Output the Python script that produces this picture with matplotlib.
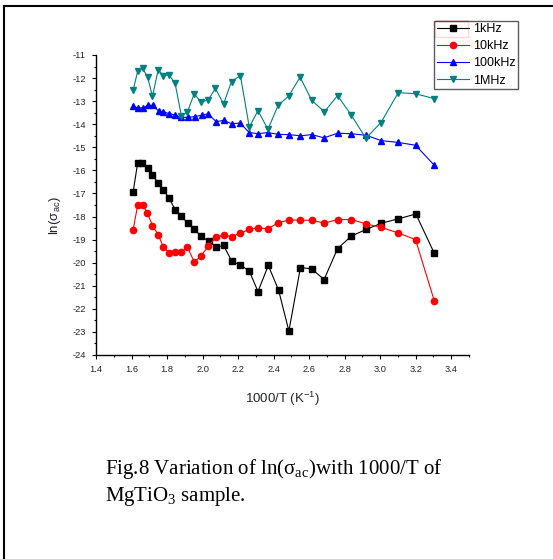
import matplotlib
matplotlib.use("Agg")
import matplotlib.pyplot as plt
from matplotlib.lines import Line2D
from matplotlib.patches import Rectangle

plt.rcParams['font.family'] = ['Liberation Sans', 'DejaVu Sans']
plt.rcParams['axes.unicode_minus'] = False
plt.rcParams['mathtext.default'] = 'regular'

# ---- data ----
x_1k = [1.609, 1.635, 1.660, 1.690, 1.718, 1.750, 1.780, 1.810, 1.847, 1.881, 1.917,
        1.953, 1.992, 2.034, 2.078, 2.118, 2.165, 2.211, 2.263, 2.312, 2.370, 2.428,
        2.486, 2.551, 2.615, 2.684, 2.760, 2.837, 2.921, 3.006, 3.102, 3.201, 3.305]
y_1k = [-16.93, -15.66, -15.66, -15.89, -16.22, -16.53, -16.85, -17.19, -17.72, -17.98,
        -18.30, -18.55, -18.85, -19.07, -19.33, -19.25, -19.94, -20.09, -20.36, -21.25,
        -20.12, -21.19, -22.96, -20.21, -20.27, -20.73, -19.39, -18.85, -18.56, -18.29,
        -18.10, -17.89, -19.60]

x_10k = [1.609, 1.635, 1.662, 1.688, 1.718, 1.750, 1.780, 1.811, 1.845, 1.879, 1.915,
         1.953, 1.990, 2.032, 2.076, 2.120, 2.163, 2.211, 2.263, 2.312, 2.368, 2.426,
         2.486, 2.551, 2.615, 2.686, 2.760, 2.837, 2.921, 3.006, 3.102, 3.199, 3.305]
y_10k = [-18.58, -17.49, -17.49, -17.83, -18.39, -18.79, -19.33, -19.57, -19.54, -19.54,
         -19.33, -19.97, -19.72, -19.28, -18.90, -18.81, -18.87, -18.73, -18.55, -18.49,
         -18.53, -18.27, -18.15, -18.16, -18.16, -18.29, -18.13, -18.13, -18.32, -18.47,
         -18.71, -19.00, -21.66]

x_100k = [1.609, 1.635, 1.664, 1.694, 1.720, 1.752, 1.780, 1.810, 1.845, 1.879, 1.917,
          1.955, 1.994, 2.032, 2.076, 2.120, 2.163, 2.211, 2.263, 2.312, 2.368, 2.426,
          2.486, 2.551, 2.615, 2.684, 2.760, 2.837, 2.921, 3.006, 3.102, 3.199, 3.305]
y_100k = [-13.22, -13.29, -13.29, -13.18, -13.18, -13.43, -13.46, -13.54, -13.60, -13.70,
          -13.70, -13.67, -13.61, -13.55, -13.89, -13.83, -13.98, -13.95, -14.36, -14.41,
          -14.36, -14.44, -14.45, -14.50, -14.45, -14.59, -14.39, -14.41, -14.48, -14.71,
          -14.79, -14.91, -15.78]

x_1M = [1.609, 1.635, 1.662, 1.690, 1.718, 1.750, 1.780, 1.810, 1.845, 1.881, 1.915,
        1.953, 1.992, 2.032, 2.072, 2.118, 2.163, 2.213, 2.263, 2.312, 2.368, 2.426,
        2.484, 2.549, 2.615, 2.686, 2.760, 2.837, 2.919, 3.004, 3.102, 3.199, 3.305]
y_1M = [-12.53, -11.69, -11.58, -11.95, -12.79, -11.64, -11.89, -11.86, -12.22, -13.64,
        -13.46, -12.68, -13.05, -12.94, -12.45, -13.12, -12.15, -11.89, -14.13, -13.41,
        -14.22, -13.17, -12.79, -11.96, -12.97, -13.46, -12.76, -13.60, -14.61, -13.93,
        -12.63, -12.68, -12.89]

labels = ['1kHz', '10kHz', '100kHz', '1MHz']
xticks = [1.4, 1.6, 1.8, 2.0, 2.2, 2.4, 2.6, 2.8, 3.0, 3.2, 3.4]
yticks = list(range(-24, -10))

W, H = 553, 559
fig = plt.figure(figsize=(W / 100, H / 100), dpi=100)
ax = fig.add_axes([96 / W, 1 - 355 / H, (469 - 96) / W, (355 - 55) / H])

styles = [
    dict(color='black', marker='s', ms=4.5),
    dict(color='#FF0000', marker='o', ms=4.5),
    dict(color='#0000FF', marker='^', ms=5),
    dict(color='#008080', marker='v', ms=5),
]
series = [(x_1k, y_1k), (x_10k, y_10k), (x_100k, y_100k), (x_1M, y_1M)]
handles = []
for (xs, ys), st, lab in zip(series, styles, labels):
    h, = ax.plot(xs, ys, color=st['color'], marker=st['marker'], ms=st['ms'],
                 lw=0.8, mec=st['color'], mfc=st['color'], label=lab)
    handles.append(h)

ax.set_xlim(1.4, 3.5)
ax.set_ylim(-24, -11)
ax.spines['top'].set_visible(False)
ax.spines['right'].set_visible(False)
for s in ['left', 'bottom']:
    ax.spines[s].set_linewidth(1.0)
ax.set_xticks(xticks)
ax.set_xticklabels([f'{v:.1f}' for v in xticks])
ax.set_xticks([v / 10 for v in range(14, 36)], minor=True)
ax.set_yticks(yticks)
ax.set_yticklabels([str(v) for v in yticks])
ax.set_yticks([v + 0.5 for v in range(-24, -11)], minor=True)
ax.tick_params(which='major', direction='out', length=2.8, width=0.8, labelsize=6.7, pad=4.5,
               colors='black', labelcolor='#222233')
ax.tick_params(which='minor', direction='out', length=1.6, width=0.8)

ax.set_xlabel('1000/T (K$^{-1}$)', fontsize=9.5, labelpad=11, color='#222233')
ax.set_ylabel('ln(σ$_{ac}$)', fontsize=9.5, color='#222233')
ax.yaxis.set_label_coords(-0.088, 0.465)

leg = fig.legend(handles=handles, labels=labels, loc='upper left',
                 bbox_to_anchor=(434 / W, 1 - 20.5 / H), bbox_transform=fig.transFigure,
                 fontsize=9, frameon=True, fancybox=False, handlelength=2.6,
                 handletextpad=0.3, borderpad=0.2, labelspacing=0.42, borderaxespad=0)
leg.get_frame().set_edgecolor('#333333')
leg.get_frame().set_linewidth(1.0)

# selection box on first legend entry
fig.patches.append(Rectangle((435 / W, 1 - 37 / H), 33 / W, 16 / H,
                             transform=fig.transFigure, fill=False, ec='#FF3030', lw=1.0))

# page frame lines
fig.add_artist(Line2D([4 / W, 4 / W], [0, 1 - 6 / H], transform=fig.transFigure, color='black', lw=1.5))
fig.add_artist(Line2D([4 / W, 1], [1 - 6 / H, 1 - 6 / H], transform=fig.transFigure, color='black', lw=1.5))

cap_font = ['Liberation Serif', 'DejaVu Serif']
fig.text(105 / W, 1 - 474 / H, 'Fig.8 Variation of ln(σ$_{ac}$)with 1000/T of',
         fontsize=15, family=cap_font, va='baseline', ha='left')
fig.text(105 / W, 1 - 501 / H, 'MgTiO$_{3}$ sample.',
         fontsize=15, family=cap_font, va='baseline', ha='left')

fig.savefig('out.png', dpi=100)
